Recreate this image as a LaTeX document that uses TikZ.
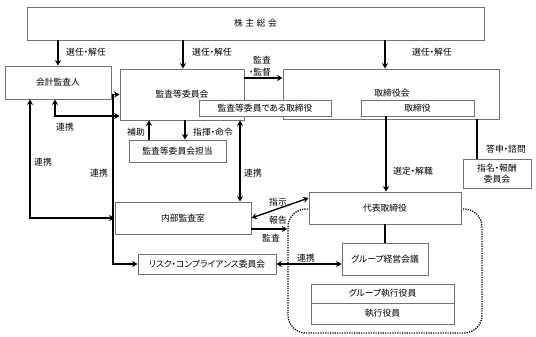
\documentclass[tikz,border=0pt]{standalone}
\usepackage{fontspec}
\setmainfont[RawFeature=+palt]{Noto Sans CJK JP}
\usetikzlibrary{arrows.meta}
\begin{document}
\begin{tikzpicture}[x=1pt,y=-1pt,
  box/.style={draw=black!55,line width=0.8pt,fill=white,inner sep=0pt,font=\fontsize{8.8}{10.5}\selectfont},
  lbl/.style={inner sep=0pt,font=\fontsize{8.8}{10.5}\selectfont},
  arr/.style={line width=1.4pt,-{Stealth[length=5.5pt,width=6pt]}},
  darr/.style={line width=1.4pt,{Stealth[length=5.5pt,width=6pt]}-{Stealth[length=5.5pt,width=6pt]}},
  ln/.style={line width=1.4pt},
  dotbox/.style={draw,line width=1.3pt,dash pattern=on 1.2pt off 1.2pt,rounded corners=18pt,inner sep=0pt}]
\useasboundingbox (0,0) rectangle (536,337);
% dotted group frame
\node[dotbox,minimum width=194pt,minimum height=124pt] (grp) at (385,271) {};
% boxes
\node[box,minimum width=457pt,minimum height=33pt] (kabu) at (255.5,23.5) {株\hspace{2.5pt}主\hspace{2.5pt}総\hspace{2.5pt}会};
\node[box,minimum width=106pt,minimum height=33pt] (kaikei) at (58,82.5) {会計監査人};
\node[box,minimum width=124pt,minimum height=51pt] (kansa) at (182,94.5) {監査等委員会};
\node[box,minimum width=216pt,minimum height=50pt] (torikai) at (391,94) {};
\node[lbl] (torikaiT) at (392,93) {取締役会};
\node[box,minimum width=132pt,minimum height=16pt] (kansatori) at (265,108) {監査等委員である取締役};
\node[box,minimum width=113pt,minimum height=16pt] (tori) at (417.5,108) {取締役};
\node[box,minimum width=97pt,minimum height=22pt] (tanto) at (177.5,151) {監査等委員会担当};
\node[box,minimum width=68pt,minimum height=29pt,align=center] (shimei) at (497,173.5) {指名・報酬\\委員会};
\node[box,minimum width=152pt,minimum height=32pt] (daihyo) at (385,208) {代表取締役};
\node[box,minimum width=86pt,minimum height=32pt] (group) at (385,259) {グループ経営会議};
\node[box,minimum width=143pt,minimum height=19pt] (gexec) at (382.5,293.5) {グループ執行役員};
\node[box,minimum width=143pt,minimum height=21pt] (exec) at (382.5,313.5) {執行役員};
\node[box,minimum width=136pt,minimum height=32pt] (naibu) at (183,218) {内部監査室};
\node[box,minimum width=138pt,minimum height=20pt] (risk) at (207,264) {リスク・コンプライアンス委員会};
% helper coordinates
\coordinate (x30) at (30,0);
\coordinate (x55) at (55,0);
\coordinate (x113) at (113,180);
\coordinate (x149) at (149,0);
\coordinate (x183) at (183,0);
\coordinate (x185) at (185,0);
\coordinate (x240) at (240,0);
\coordinate (x385) at (385,0);
\coordinate (x386) at (386,0);
\coordinate (x477) at (477,0);
% connectors
\draw[arr] (kabu.south -| kaikei.north) -- (kaikei.north);
\draw[arr] (kabu.south -| x183) -- (kansa.north -| x183);
\draw[arr] (kabu.south -| x385) -- (torikai.north -| x385);
\draw[arr] ([yshift=16.5pt]kansa.east) -- ([yshift=16pt]torikai.west);
\draw[arr] (tanto.north -| x149) -- (kansa.south -| x149);
\draw[arr] (kansa.south -| x185) -- (tanto.north -| x185);
\draw[darr] (kansa.south -| x240) -- (naibu.north -| x240);
\draw[darr] (kaikei.south -| x55) |- ([yshift=-21.5pt]kansa.west);
\draw[darr] (kaikei.south -| x30) |- (naibu.west);
\draw[darr] (kansa.west) -| (x113) |- (risk.west);
\draw[ln] (torikai.south -| x477) -- (shimei.north -| x477);
\draw[arr] (tori.south -| x386) -- (daihyo.north -| x386);
\draw[ln] (daihyo.south) -- (group.north);
\draw[darr] (naibu.east) -- ([yshift=10pt]daihyo.west);
\coordinate (ka) at ([yshift=-11pt]naibu.east);
\draw[arr] (ka) -- (ka -| grp.west);
\draw[darr] (risk.east) -- (risk.east -| group.west);
% labels
\node[lbl] (l1) at (86,52) {選任・解任};
\node[lbl] (l2) at (212,52) {選任・解任};
\node[lbl] (l3) at (432,52) {選任・解任};
\node[lbl] (l4) at (262,60) {監査};
\node[lbl] (l5) at (260,72) {・監督};
\node[lbl] (l6) at (136,132) {補助};
\node[lbl] (l7) at (213,132) {指揮・命令};
\node[lbl] (l8) at (65,127) {連携};
\node[lbl] (l9) at (43,162) {連携};
\node[lbl] (l10) at (99,173) {連携};
\node[lbl] (l11) at (253,173) {連携};
\node[lbl] (l12) at (506,149) {答申・諮問};
\node[lbl] (l13) at (413,171) {選定・解職};
\node[lbl] (l14) at (278,202) {指示};
\node[lbl] (l15) at (278,220) {報告};
\node[lbl] (l16) at (271,238) {監査};
\node[lbl] (l17) at (306,258) {連携};
\end{tikzpicture}
\end{document}
